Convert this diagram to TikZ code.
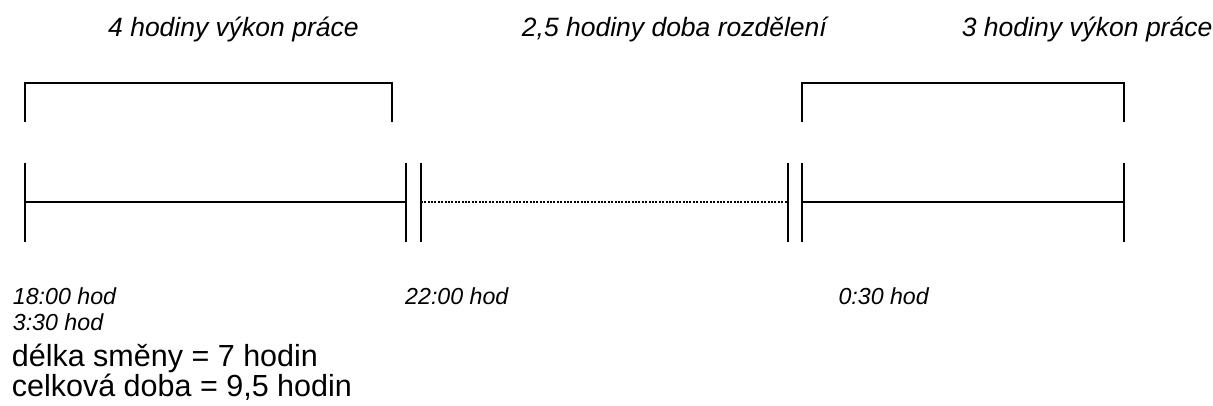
\documentclass[tikz,border=0pt]{standalone}
\usepackage{fontspec}
\setmainfont{Liberation Sans}
\begin{document}
\begin{tikzpicture}[x=1pt,y=-1pt,
  line/.style={line width=2pt},
  dotline/.style={line width=2pt, dash pattern=on 2pt off 1.4pt},
  toplabel/.style={anchor=base west, inner sep=0pt, font=\fontsize{26.5}{30}\selectfont\itshape},
  timelabel/.style={anchor=base west, inner sep=0pt, font=\fontsize{23.2}{26}\selectfont\itshape},
  biglabel/.style={anchor=base west, inner sep=0pt, font=\fontsize{30.5}{34}\selectfont}]
\useasboundingbox (0,0) rectangle (1213,405);
% tick positions
\coordinate (t1) at (24.7,202.3);
\coordinate (t2) at (406,202.3);
\coordinate (t3) at (420.7,202.3);
\coordinate (t4) at (787.5,202.3);
\coordinate (t5) at (802.3,202.3);
\coordinate (t6) at (1124.3,202.3);
% ticks
\foreach \t in {t1,t2,t3,t4,t5,t6}
  \draw[line] ([yshift=-39.6pt]\t) -- ([yshift=39.4pt]\t);
% timeline
\draw[line] (t1) -- (t2);
\draw[dotline] (t3) -- (t4);
\draw[line] (t5) -- (t6);
% brackets
\draw[line] (24.7,121.7) -- (24.7,82.7) -- (391.7,82.7) -- (391.7,121.7);
\draw[line] (802.3,121.7) -- (802.3,82.7) -- (1124.3,82.7) -- (1124.3,121.7);
% labels
\node[toplabel] (l1) at (108,36.7) {4 hodiny výkon práce};
\node[toplabel] (l2) at (521.7,36.7) {2,5 hodiny doba rozdělení};
\node[toplabel] (l3) at (961.7,36.7) {3 hodiny výkon práce};
\node[timelabel] (h1) at (12.7,304) {18:00 hod};
\node[timelabel] (h2) at (12.7,330) {3:30 hod};
\node[timelabel] (h3) at (405,304) {22:00 hod};
\node[timelabel] (h4) at (838.3,304) {0:30 hod};
\node[biglabel] (s1) at (11.7,366.7) {délka směny = 7 hodin};
\node[biglabel] (s2) at (11.7,396.5) {celková doba = 9,5 hodin};
\end{tikzpicture}
\end{document}
